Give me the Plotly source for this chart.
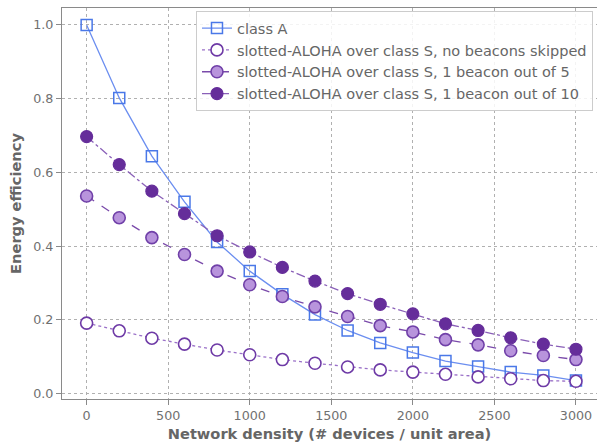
import plotly.graph_objects as go

density = [0, 200, 400, 600, 800, 1000, 1200, 1400, 1600, 1800, 2000, 2200, 2400, 2600, 2800, 3000]

class_a = [1.0, 0.802, 0.644, 0.520, 0.411, 0.332, 0.269, 0.214, 0.171, 0.137, 0.111, 0.088, 0.073, 0.058, 0.049, 0.035]
no_skip = [0.191, 0.170, 0.150, 0.134, 0.118, 0.105, 0.092, 0.082, 0.072, 0.064, 0.058, 0.052, 0.045, 0.040, 0.035, 0.033]
one_of_5 = [0.536, 0.477, 0.423, 0.377, 0.332, 0.295, 0.263, 0.235, 0.209, 0.184, 0.167, 0.146, 0.132, 0.116, 0.103, 0.092]
one_of_10 = [0.697, 0.621, 0.549, 0.488, 0.428, 0.384, 0.342, 0.305, 0.271, 0.242, 0.216, 0.189, 0.171, 0.151, 0.134, 0.120]

names = [
    "class A",
    "slotted-ALOHA over class S, no beacons skipped",
    "slotted-ALOHA over class S, 1 beacon out of 5",
    "slotted-ALOHA over class S, 1 beacon out of 10",
]

fig = go.Figure()

fig.add_trace(go.Scatter(
    x=density, y=class_a, name=names[0], mode="lines+markers",
    line=dict(color="#6b8ef0", width=1.3, dash="solid"),
    marker=dict(symbol="square-open", size=11, color="#4a78e8", line=dict(width=1.5, color="#4a78e8")),
))
fig.add_trace(go.Scatter(
    x=density, y=no_skip, name=names[1], mode="lines+markers",
    line=dict(color="#9a70c8", width=1.3, dash="dot"),
    marker=dict(symbol="circle", size=12, color="white", line=dict(width=1.6, color="#6e3aa6")),
))
fig.add_trace(go.Scatter(
    x=density, y=one_of_5, name=names[2], mode="lines+markers",
    line=dict(color="#7a4aaa", width=1.3, dash="dash"),
    marker=dict(symbol="circle", size=12, color="#b894dc", line=dict(width=1.6, color="#7040a8")),
))
fig.add_trace(go.Scatter(
    x=density, y=one_of_10, name=names[3], mode="lines+markers",
    line=dict(color="#8a60b8", width=1.3, dash="dashdot"),
    marker=dict(symbol="circle", size=12, color="#652d9a", line=dict(width=1.2, color="#652d9a")),
))

axis_common = dict(
    showgrid=True, gridcolor="#b0b0b0", griddash="dot", gridwidth=1,
    showline=True, linecolor="#8a8a8a", linewidth=1.2, mirror=True,
    ticks="outside", ticklen=5, tickcolor="#8a8a8a", tickwidth=1,
    tickfont=dict(family="DejaVu Sans", size=12.7, color="#707070"),
    zeroline=False,
)

fig.update_layout(
    width=597, height=445,
    margin=dict(l=62, r=0, t=8, b=46),
    paper_bgcolor="white", plot_bgcolor="white",
    font=dict(family="DejaVu Sans", color="#666666"),
    xaxis=dict(
        range=[-151, 3129], tickvals=[0, 500, 1000, 1500, 2000, 2500, 3000],
        title=dict(text="<b>Network density (# devices / unit area)</b>",
                   font=dict(family="DejaVu Sans", size=14.6, color="#666666"), standoff=6),
        **axis_common,
    ),
    yaxis=dict(
        range=[-0.015, 1.046], tickvals=[0, 0.2, 0.4, 0.6, 0.8, 1.0], tickformat=".1f",
        title=dict(text="<b>Energy efficiency</b>",
                   font=dict(family="DejaVu Sans", size=14.6, color="#666666"), standoff=8),
        **axis_common,
    ),
    legend=dict(
        x=0.9925, y=0.992, xanchor="right", yanchor="top",
        bgcolor="rgba(255,255,255,0.85)", bordercolor="#cccccc", borderwidth=1,
        font=dict(family="DejaVu Sans", size=14.5, color="#666666"),
        tracegroupgap=0, itemwidth=30,
    ),
    showlegend=True,
)

fig.write_html("out.html", config={"displayModeBar": False},
               post_script="document.body.style.margin='0';")
